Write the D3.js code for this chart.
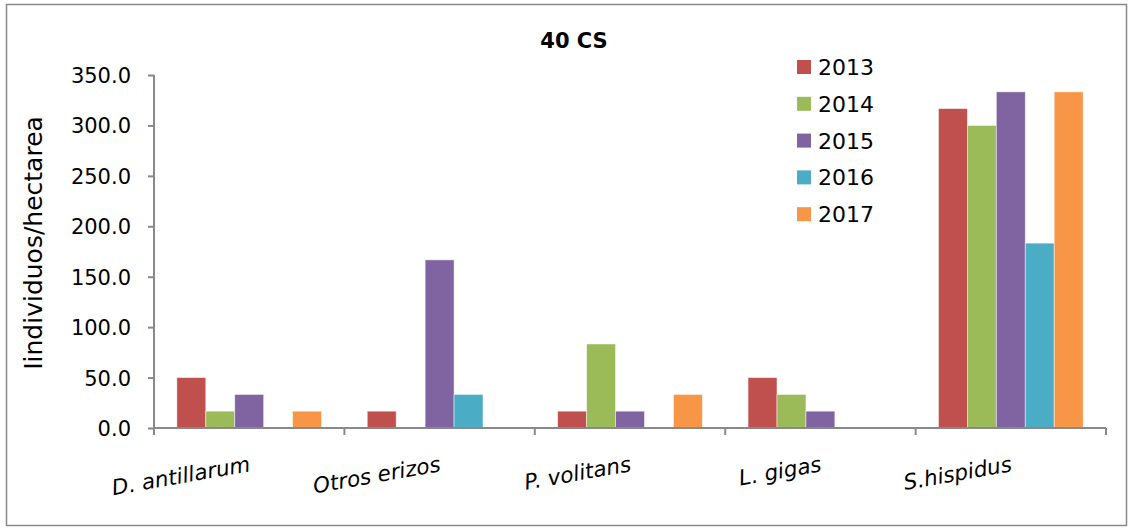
<!DOCTYPE html>
<html><head><meta charset="utf-8">
<script src="https://cdn.jsdelivr.net/npm/d3@7"></script>
<style>body{margin:0;background:#fff}svg{display:block}</style>
</head><body>
<svg id="c" width="1130" height="529"></svg>
<script>
const categories = ["D. antillarum","Otros erizos","P. volitans","L. gigas","S.hispidus"];
const years = ["2013","2014","2015","2016","2017"];
const s2013 = [50.0, 16.7, 16.7, 50.0, 316.7];
const s2014 = [16.7, 0, 83.3, 33.3, 300.0];
const s2015 = [33.3, 166.7, 16.7, 16.7, 333.3];
const s2016 = [0, 33.3, 0, 0, 183.3];
const s2017 = [16.7, 0, 33.3, 0, 333.3];
const yTicks = [0,50,100,150,200,250,300,350];
const colors = ["#C0504D","#9BBB59","#8064A2","#4BACC6","#F79646"];
const series = [s2013,s2014,s2015,s2016,s2017];

const svg = d3.select("#c");
const font = "DejaVu Sans";
svg.append("rect").attr("x",6.5).attr("y",4.5).attr("width",1120).attr("height",521)
  .attr("fill","#fff").attr("stroke","#898989").attr("stroke-width",1.5);

const L=154, R=1106, T=75, B=428;
const x0 = d3.scaleBand().domain(categories).range([L,R]).padding(0);
const x1 = d3.scaleBand().domain(years).range([x0.bandwidth()*0.12, x0.bandwidth()*0.88]).padding(0);
const y = d3.scaleLinear().domain([0,350]).range([B,T]);

svg.append("text").attr("x",574).attr("y",48).attr("text-anchor","middle")
  .attr("font-family",font).attr("font-weight","bold").attr("font-size",21).text("40 CS");

// bars
const g = svg.append("g");
categories.forEach((c,i)=>{
  years.forEach((yr,j)=>{
    const v = series[j][i];
    if(v<=0) return;
    g.append("rect").attr("x",x0(c)+x1(yr)).attr("y",y(v)).attr("width",x1.bandwidth())
      .attr("height",B-y(v)).attr("fill",colors[j]).attr("stroke","#fff").attr("stroke-opacity",0.6).attr("stroke-width",0.8);
  });
});

// y axis
const yAxis = svg.append("g").attr("transform",`translate(${L},0)`)
  .call(d3.axisLeft(y).tickValues(yTicks).tickFormat(d3.format(".1f")).tickSize(6).tickPadding(17));
yAxis.selectAll("path,line").attr("stroke","#898989").attr("stroke-width",2);
yAxis.select(".domain").attr("d",`M0,${T}V${B}`);
yAxis.selectAll("text").attr("font-family",font).attr("font-size",21).attr("fill","#000").attr("dy","0.36em");

// x axis
const xAxis = svg.append("g").attr("transform",`translate(0,${B})`);
xAxis.append("line").attr("x1",L).attr("x2",R).attr("stroke","#898989").attr("stroke-width",2);
const tickPos = categories.map(c=>x0(c)).concat([R]);
xAxis.selectAll("line.t").data(tickPos).join("line").attr("class","t")
  .attr("x1",d=>d).attr("x2",d=>d).attr("y1",0).attr("y2",7).attr("stroke","#898989").attr("stroke-width",2);
xAxis.selectAll("text").data(categories).join("text")
  .attr("transform",d=>`translate(${x0(d)+x0.bandwidth()/2+2},${43}) rotate(-10)`)
  .attr("text-anchor","end").attr("font-family",font).attr("font-style","italic").attr("font-size",21.5)
  .text(d=>d);

// y label
svg.append("text").attr("transform",`translate(42,${243}) rotate(-90)`).attr("text-anchor","middle")
  .attr("font-family",font).attr("font-size",25).text("Iindividuos/hectarea");

// legend
const lg = svg.append("g");
years.forEach((yr,j)=>{
  const cy = 67 + j*36.8;
  lg.append("rect").attr("x",797).attr("y",cy-7).attr("width",14).attr("height",14).attr("fill",colors[j]);
  lg.append("text").attr("x",818).attr("y",cy).attr("dy","0.36em").attr("font-family",font)
    .attr("font-size",22).text(yr);
});
</script>
</body></html>
